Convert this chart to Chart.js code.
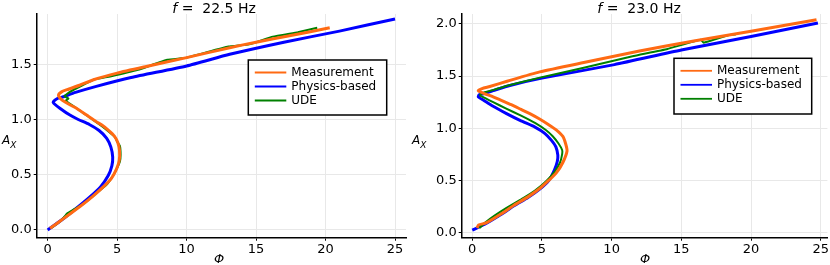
<!DOCTYPE html>
<html>
<head>
<meta charset="utf-8">
<script src="https://cdn.jsdelivr.net/npm/chart.js@4.4.0/dist/chart.umd.min.js"></script>
<style>
html,body{margin:0;padding:0;background:#fff;}
#c1{position:absolute;left:0;top:0;}
#c2{position:absolute;left:405px;top:0;}
</style>
</head>
<body>
<canvas id="c1" width="415" height="265"></canvas>
<canvas id="c2" width="425" height="265"></canvas>
<script>
// ---------- Data: f = 22.5 Hz ----------
const titleLeft = "22.5 Hz";
const measLeft = [[0.17,0.015],[1.0,0.09],[2.3,0.21],[3.2,0.30],[4.0,0.39],[4.6,0.47],[4.95,0.55],[5.15,0.63],[5.17,0.72],[5.05,0.79],[4.8,0.85],[4.4,0.90],[3.9,0.95],[3.5,0.98],[2.8,1.04],[2.1,1.10],[1.5,1.14],[1.0,1.18],[0.78,1.22],[1.0,1.25],[1.4,1.27],[2.3,1.31],[3.3,1.36],[5.0,1.42],[7.1,1.48],[10.0,1.56],[13.1,1.65],[15.0,1.70],[17.5,1.76],[20.3,1.83]];
const physLeft = [[0,0],[1,0.09],[2,0.19],[3,0.295],[3.8,0.39],[4.35,0.49],[4.62,0.58],[4.68,0.66],[4.55,0.75],[4.25,0.83],[3.7,0.9],[3.0,0.955],[2.2,1.0],[1.6,1.04],[0.9,1.1],[0.45,1.145],[0.4,1.16],[0.7,1.19],[1.0,1.2],[2.0,1.245],[3.5,1.30],[6,1.38],[10,1.485],[13.1,1.59],[17,1.70],[21,1.80],[25,1.91]];
const udeLeft = [[0.3,0.02],[1.0,0.09],[1.4,0.15],[1.8,0.18],[2.5,0.23],[3.3,0.31],[4.25,0.41],[4.7,0.49],[5.0,0.56],[5.2,0.62],[5.25,0.68],[5.2,0.76],[5.0,0.80],[4.85,0.84],[4.4,0.89],[3.9,0.94],[3.0,1.02],[2.1,1.10],[1.5,1.15],[1.3,1.17],[1.5,1.19],[1.2,1.21],[1.6,1.25],[2.5,1.31],[3.3,1.36],[4.5,1.39],[6.5,1.45],[8.6,1.54],[10.0,1.56],[13.0,1.66],[14.5,1.68],[16.2,1.75],[18,1.79],[19.4,1.83]];

// ---------- Data: f = 23.0 Hz ----------
const titleRight = "23.0 Hz";
const measRight = [[0.35,0.04],[0.45,0.07],[1.0,0.09],[2.0,0.17],[3.0,0.26],[4.0,0.34],[4.84,0.42],[5.5,0.50],[6.03,0.57],[6.5,0.67],[6.8,0.78],[6.7,0.85],[6.5,0.92],[6.0,0.985],[5.4,1.04],[4.8,1.09],[4.2,1.135],[3.5,1.18],[2.8,1.225],[2.2,1.26],[1.5,1.30],[0.9,1.33],[0.55,1.35],[0.43,1.36],[0.7,1.38],[1.26,1.40],[2.5,1.45],[4.84,1.54],[8,1.63],[12,1.74],[16,1.84],[20,1.93],[24.7,2.04]];
const physRight = [[0,0.02],[1,0.085],[2,0.165],[3,0.255],[4,0.335],[4.84,0.415],[5.5,0.5],[5.9,0.6],[6.1,0.68],[6.14,0.74],[6.0,0.82],[5.7,0.88],[5.2,0.95],[4.5,1.01],[3.5,1.07],[2.46,1.14],[1.5,1.21],[0.79,1.27],[0.43,1.30],[0.5,1.32],[0.8,1.33],[1.5,1.36],[2.7,1.41],[5,1.48],[10.2,1.61],[15,1.75],[20,1.88],[24.8,2.01]];
const udeRight = [[0.5,0.04],[1.0,0.1],[1.6,0.16],[2.46,0.235],[3.5,0.315],[4.5,0.40],[5.3,0.49],[5.9,0.58],[6.3,0.67],[6.45,0.75],[6.45,0.79],[6.2,0.85],[5.79,0.92],[5.3,0.98],[4.5,1.05],[3.5,1.12],[2.4,1.19],[1.5,1.25],[0.9,1.29],[0.6,1.31],[0.55,1.32],[0.8,1.34],[1.6,1.37],[2.57,1.41],[5,1.49],[8,1.58],[11.5,1.69],[14,1.76],[16.4,1.85],[16.6,1.82],[18.3,1.89],[18.9,1.90]];

const seriesNames = ["Measurement","Physics-based","UDE"];
const xTickStep = 5;
const yTickStep = 0.5;

const COL_MEAS = "#ff6a13";
const COL_PHYS = "#0000ff";
const COL_UDE = "#008000";

function toPts(a){ return a.map(p=>({x:p[0], y:p[1]})); }

const decorPlugin = {
  id:'decor',
  afterDraw(chart){
    const o = chart.options.plugins.decor;
    const ctx = chart.ctx;
    ctx.save();
    // Title
    ctx.fillStyle = '#000';
    ctx.textBaseline = 'alphabetic';
    ctx.font = 'italic 14px "DejaVu Sans"';
    const fw = ctx.measureText('f').width;
    ctx.font = '14px "DejaVu Sans"';
    const rest = ' =  ' + o.title;
    const rw = ctx.measureText(rest).width;
    let tx = o.titleX - (fw + rw)/2;
    ctx.font = 'italic 14px "DejaVu Sans"';
    ctx.textAlign = 'left';
    ctx.fillText('f', tx, 13);
    ctx.font = '14px "DejaVu Sans"';
    ctx.fillText(rest, tx + fw, 13);
    // x label
    ctx.font = 'italic 13px "DejaVu Sans"';
    ctx.textAlign = 'center';
    ctx.fillText('\u03A6', o.xLabelX, 263);
    // y label
    ctx.textAlign = 'left';
    ctx.font = 'italic 12px "DejaVu Sans"';
    ctx.fillText('A', o.yLabelX, 144);
    const aw = ctx.measureText('A').width;
    ctx.font = 'italic 9px "DejaVu Sans"';
    ctx.fillText('X', o.yLabelX + aw, 148);
    // legend
    const b = o.legendBox;
    ctx.fillStyle = '#fff';
    ctx.fillRect(b.x, b.y, b.w, b.h);
    ctx.strokeStyle = '#000';
    ctx.lineWidth = 1.5;
    ctx.strokeRect(b.x, b.y, b.w, b.h);
    ctx.font = '12px "DejaVu Sans"';
    ctx.textBaseline = 'middle';
    chart.data.datasets.forEach((ds,i)=>{
      const yy = b.y + 12.5 + i*14;
      ctx.strokeStyle = ds.borderColor;
      ctx.lineWidth = 1.8;
      ctx.beginPath();
      ctx.moveTo(b.x + 6.5, yy);
      ctx.lineTo(b.x + 38, yy);
      ctx.stroke();
      ctx.fillStyle = '#000';
      ctx.textAlign = 'left';
      ctx.fillText(ds.label, b.x + 43, yy + 0.5);
    });
    ctx.restore();
  }
};

function makeChart(id, meas, phys, ude, cfg){
  const datasets = [
    {label: seriesNames[0], data: toPts(meas), borderColor: COL_MEAS, borderWidth: 3, order: 0, tension: 0.2},
    {label: seriesNames[1], data: toPts(phys), borderColor: COL_PHYS, borderWidth: 3, order: 2, tension: 0.2},
    {label: seriesNames[2], data: toPts(ude), borderColor: COL_UDE, borderWidth: 2, order: 1, tension: 0.1}
  ];
  datasets.forEach(d=>{ d.showLine = true; d.pointRadius = 0; d.fill = false; d.backgroundColor = d.borderColor; });
  const tickFont = {family: '"DejaVu Sans"', size: 13};
  return new Chart(document.getElementById(id), {
    type: 'scatter',
    data: {datasets},
    options: {
      responsive: false,
      animation: false,
      devicePixelRatio: 1,
      layout: {padding: {left: 0, right: cfg.padRight, top: 14, bottom: 0}},
      plugins: {
        legend: {display: false},
        tooltip: {enabled: false},
        decor: cfg.decor
      },
      scales: {
        x: {
          type: 'linear', min: cfg.xmin, max: cfg.xmax,
          ticks: {stepSize: xTickStep, includeBounds: false, color: '#000', font: tickFont, padding: 1, maxRotation: 0},
          grid: {color: '#e8e8e8', lineWidth: 1, tickLength: 3, tickColor: '#000'},
          border: {color: '#000', width: 1.5},
          afterFit(s){ s.height = 27.3; }
        },
        y: {
          type: 'linear', min: cfg.ymin, max: cfg.ymax,
          ticks: {stepSize: yTickStep, includeBounds: false, color: '#000', font: tickFont, padding: 2,
                  callback: v => Number(v).toFixed(1)},
          grid: {color: '#e8e8e8', lineWidth: 1, tickLength: 3, tickColor: '#000'},
          border: {color: '#000', width: 1.5},
          afterFit(s){ s.width = cfg.yAxisW; }
        }
      }
    },
    plugins: [decorPlugin]
  });
}

makeChart('c1', measLeft, physLeft, udeLeft, {
  xmin: -0.79, xmax: 25.79, ymin: -0.07, ymax: 1.955,
  padRight: 9, yAxisW: 36.7,
  decor: {title: titleLeft, titleX: 214, xLabelX: 219, yLabelX: 2,
          legendBox: {x: 248.3, y: 60, w: 138.4, h: 55}}
});
makeChart('c2', measRight, physRight, udeRight, {
  xmin: -0.757, xmax: 25.48, ymin: -0.052, ymax: 2.096,
  padRight: 1, yAxisW: 56.7,
  decor: {title: titleRight, titleX: 234, xLabelX: 240, yLabelX: 7,
          legendBox: {x: 269, y: 58.3, w: 137.7, h: 55.7}}
});
</script>
</body>
</html>
